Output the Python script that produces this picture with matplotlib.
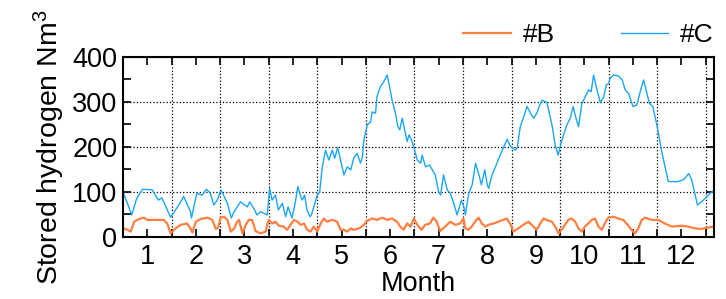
import matplotlib
matplotlib.use("Agg")
import matplotlib.pyplot as plt
from matplotlib.ticker import MultipleLocator, FixedLocator
import numpy as np

plt.rcParams['font.family'] = ['Liberation Sans', 'DejaVu Sans']
plt.rcParams['mathtext.default'] = 'regular'

# months on the x axis, values in Nm3
month_c = [0.0, 0.09, 0.18, 0.28, 0.4, 0.6, 0.73, 0.8, 0.98, 1.15, 1.25, 1.39, 1.41, 1.52,
           1.63, 1.72, 1.8, 1.87, 1.94, 2.02, 2.15, 2.23, 2.28, 2.42, 2.56, 2.61, 2.69, 2.76,
           2.83, 2.9, 2.97, 3.02, 3.07, 3.14, 3.2, 3.28, 3.35, 3.4, 3.48, 3.55, 3.6, 3.66,
           3.69, 3.74, 3.79, 3.85, 3.88, 3.93, 4.0, 4.05, 4.1, 4.17, 4.24, 4.31, 4.36, 4.42,
           4.48, 4.55, 4.62, 4.69, 4.75, 4.82, 4.89, 4.93, 4.96, 5.03, 5.1, 5.13, 5.2, 5.23,
           5.3, 5.37, 5.44, 5.49, 5.54, 5.61, 5.66, 5.7, 5.75, 5.8, 5.85, 5.89, 5.94, 5.99,
           6.06, 6.13, 6.16, 6.23, 6.31, 6.37, 6.43, 6.5, 6.54, 6.6, 6.68, 6.74, 6.81, 6.88,
           6.91, 6.97, 7.02, 7.05, 7.12, 7.19, 7.26, 7.33, 7.38, 7.45, 7.5, 7.53, 7.6, 7.67,
           7.74, 7.81, 7.91, 7.98, 8.08, 8.12, 8.18, 8.25, 8.32, 8.39, 8.46, 8.52, 8.58, 8.63,
           8.73, 8.84, 8.9, 8.96, 9.01, 9.07, 9.14, 9.21, 9.27, 9.31, 9.38, 9.45, 9.52, 9.59,
           9.64, 9.69, 9.76, 9.83, 9.9, 9.95, 10.0, 10.03, 10.1, 10.2, 10.28, 10.34, 10.41,
           10.5, 10.58, 10.65, 10.72, 10.79, 10.84, 10.91, 11.0, 11.1, 11.23, 11.41, 11.54,
           11.65, 11.71, 11.83, 11.95, 12.09, 12.16]
stored_c = [100, 75, 49, 85, 106, 105, 82, 87, 44, 71, 90, 56, 42, 97,
            93, 106, 97, 71, 82, 104, 75, 42, 55, 78, 67, 78, 64, 49,
            56, 53, 49, 108, 82, 93, 60, 75, 45, 67, 42, 78, 112, 90,
            82, 93, 60, 45, 49, 67, 93, 100, 153, 193, 171, 193, 175, 199,
            171, 138, 156, 149, 175, 186, 164, 178, 216, 249, 256, 278, 275, 312,
            334, 345, 360, 334, 304, 275, 245, 238, 264, 238, 212, 227, 216, 199,
            171, 164, 182, 156, 160, 149, 138, 100, 93, 138, 104, 97, 75, 49,
            60, 82, 67, 49, 97, 116, 164, 138, 116, 149, 116, 108, 138, 156,
            175, 193, 217, 201, 193, 199, 245, 267, 290, 275, 264, 275, 293, 304,
            299, 245, 204, 182, 204, 227, 249, 264, 290, 271, 245, 297, 312, 327,
            323, 360, 327, 298, 312, 338, 341, 353, 360, 358, 349, 327, 319,
            290, 293, 323, 349, 319, 297, 290, 245, 186, 123, 123, 127,
            141, 127, 71, 82, 97, 103]

month_b = [0.02, 0.09, 0.16, 0.23, 0.33, 0.43, 0.5, 0.64, 0.84, 0.91, 0.98, 1.08, 1.19, 1.32,
           1.39, 1.43, 1.5, 1.6, 1.74, 1.84, 1.91, 1.96, 2.01, 2.08, 2.15, 2.22, 2.29, 2.35,
           2.39, 2.46, 2.53, 2.59, 2.66, 2.73, 2.83, 2.94, 2.97, 3.0, 3.07, 3.14, 3.21, 3.31,
           3.38, 3.45, 3.52, 3.59, 3.66, 3.73, 3.79, 3.86, 3.93, 4.0, 4.07, 4.14, 4.2, 4.31,
           4.41, 4.48, 4.55, 4.62, 4.69, 4.75, 4.86, 4.96, 5.03, 5.13, 5.23, 5.34, 5.44, 5.54,
           5.64, 5.71, 5.78, 5.85, 5.92, 5.99, 6.06, 6.15, 6.22, 6.32, 6.39, 6.46, 6.53, 6.63,
           6.74, 6.84, 6.94, 7.01, 7.05, 7.11, 7.18, 7.25, 7.32, 7.39, 7.46, 7.52, 7.63, 7.73,
           7.83, 7.9, 7.97, 8.04, 8.14, 8.24, 8.35, 8.45, 8.52, 8.59, 8.66, 8.72, 8.83, 8.9,
           8.97, 9.03, 9.1, 9.17, 9.24, 9.31, 9.38, 9.45, 9.51, 9.58, 9.65, 9.72, 9.79, 9.86,
           9.92, 9.99, 10.1, 10.2, 10.3, 10.37, 10.47, 10.54, 10.61, 10.68, 10.75, 10.89,
           11.02, 11.16, 11.3, 11.5, 11.64, 11.78, 11.91, 12.05, 12.16]
stored_b = [19, 16, 12, 34, 40, 43, 38, 38, 38, 30, 8, 19, 27, 30,
            19, 10, 34, 40, 43, 38, 18, 21, 43, 45, 38, 12, 19, 34,
            38, 8, 27, 38, 38, 13, 8, 12, 27, 38, 30, 34, 25, 23,
            16, 27, 38, 34, 27, 30, 16, 12, 23, 12, 30, 41, 34, 38,
            34, 16, 16, 12, 19, 16, 19, 27, 36, 41, 38, 43, 38, 41,
            34, 23, 16, 30, 23, 41, 27, 16, 27, 30, 43, 34, 13, 23,
            34, 27, 30, 41, 19, 16, 23, 34, 43, 30, 23, 27, 30, 34,
            38, 41, 30, 12, 19, 27, 34, 23, 16, 30, 41, 38, 34, 23,
            8, 16, 27, 38, 41, 34, 19, 12, 23, 30, 38, 41, 23, 16,
            30, 43, 45, 41, 38, 30, 16, 8, 19, 38, 43, 38,
            38, 30, 23, 25, 23, 19, 18, 21, 23]

month_labels = [str(m) for m in range(1, 13)]

fig = plt.figure(figsize=(7.26, 2.99), dpi=100)
ax = fig.add_axes([0.1694, 0.2074, 0.8141, 0.602])

ax.plot(month_b, stored_b, color='#FF7F41', lw=1.6, label='#B')
ax.plot(month_c, stored_c, color='#1AA6F2', lw=1.0, label='#C')

ax.set_xlim(0, 12.17)
ax.set_ylim(0, 400)

# month boundaries carry the grid, month centres carry the labels
ax.xaxis.set_minor_locator(FixedLocator(np.arange(1, 13)))
ax.xaxis.set_major_locator(FixedLocator(np.arange(0.5, 12, 1)))
ax.set_xticklabels(month_labels)
ax.yaxis.set_major_locator(MultipleLocator(100))
ax.yaxis.set_minor_locator(MultipleLocator(50))

ax.tick_params(which='both', direction='in', top=True, right=True, length=6, width=1.2)
ax.tick_params(axis='both', which='major', labelsize=19.5)
ax.tick_params(axis='x', which='major', pad=5)
ax.tick_params(axis='y', which='major', pad=4)
ax.grid(True, axis='x', which='minor', color='black', linestyle=':', lw=0.9)
ax.grid(True, axis='y', which='major', color='black', linestyle=':', lw=0.9)
for s in ax.spines.values():
    s.set_linewidth(1.5)

ax.set_xlabel('Month', fontsize=19.5, labelpad=1)
ax.set_ylabel('Stored hydrogen Nm$^{3}$', fontsize=20.5, labelpad=4)

fig.legend(loc='center right', bbox_to_anchor=(0.983, 0.883), ncol=2, frameon=False,
           fontsize=19, handlelength=1.8, handletextpad=0.45, columnspacing=2.5,
           borderpad=0, borderaxespad=0)

fig.savefig('out.png', dpi=100)
